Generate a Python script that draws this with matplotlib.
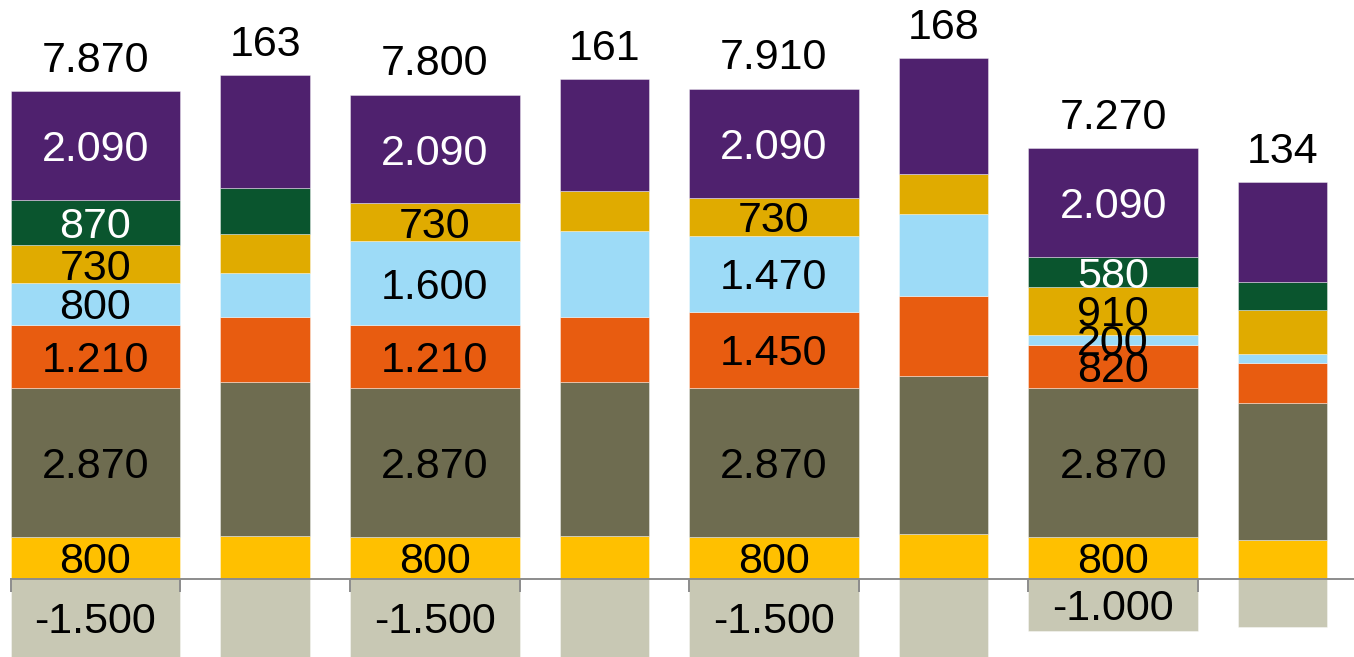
import numpy as np
import matplotlib
matplotlib.use("Agg")
import matplotlib.pyplot as plt

plt.rcParams['font.family'] = ['Liberation Sans', 'DejaVu Sans']

# wide bars (left scale) - labelled segments
wide_x = [0, 2, 4, 6]
wide_neg = [-1500, -1500, -1500, -1000]
wide_yellow = [800, 800, 800, 800]
wide_olive = [2870, 2870, 2870, 2870]
wide_orange = [1210, 1210, 1450, 820]
wide_lblue = [800, 1600, 1470, 200]
wide_gold = [730, 730, 730, 910]
wide_green = [870, 0, 0, 580]
wide_purple = [2090, 2090, 2090, 2090]

# narrow bars (right scale) - only totals shown
narrow_x = [1, 3, 5, 7]
narrow_neg = [-30.5, -31.0, -31.9, -18.4]
narrow_yellow = [16.4, 16.5, 17.0, 14.7]
narrow_olive = [59.3, 59.2, 61.0, 52.9]
narrow_orange = [25.0, 25.0, 30.8, 15.1]
narrow_lblue = [16.7, 33.0, 31.2, 3.7]
narrow_gold = [15.0, 15.1, 15.5, 16.8]
narrow_green = [17.9, 0, 0, 10.7]
narrow_purple = [43.2, 43.1, 44.4, 38.5]

colors = ['#FFC000', '#6E6C50', '#E85C10', '#9DDBF7', '#E0AB00', '#0A552E', '#4F216E']
text_colors = ['black', 'black', 'black', 'black', 'black', 'white', 'white']
neg_color = '#C8C8B4'
edge = (1, 1, 1, 0.45)
FS = 31


def fmt(v):
    return f"{v:,.0f}".replace(',', '.')


def stack(ax, x, width, neg, parts, labels):
    x = np.array(x, dtype=float)
    ax.bar(x, neg, width=width, color=neg_color, edgecolor=edge, linewidth=0.6)
    bottom = np.zeros(len(x))
    for vals, c, tc in zip(parts, colors, text_colors):
        vals = np.array(vals, dtype=float)
        ax.bar(x, vals, width=width, bottom=bottom, color=c, edgecolor=edge, linewidth=0.6)
        if labels:
            for xi, b, v in zip(x, bottom, vals):
                if v > 0:
                    ax.text(xi, b + v / 2, fmt(v), ha='center', va='center_baseline',
                            fontsize=FS, color=tc)
        bottom += vals
    if labels:
        for xi, n in zip(x, neg):
            ax.text(xi, n / 2, fmt(n), ha='center', va='center_baseline', fontsize=FS, color='black')
    totals = bottom + np.array(neg, dtype=float)
    for xi, top, t in zip(x, bottom, totals):
        ax.annotate(fmt(t), (xi, top), xytext=(0, 14), textcoords='offset points',
                    ha='center', va='baseline', fontsize=FS, color='black')


fig = plt.figure(figsize=(13.54, 6.57), dpi=100)
ax = fig.add_axes([0, 0, 1, 1])
ax2 = ax.twinx()

ylo, yhi = -1504, 11118
ax.set_xlim(-0.563, 7.42)
ax.set_ylim(ylo, yhi)
ax2.set_ylim(ylo / 50, yhi / 50)

stack(ax, wide_x, 1.0, wide_neg,
      [wide_yellow, wide_olive, wide_orange, wide_lblue, wide_gold, wide_green, wide_purple], True)
stack(ax2, narrow_x, 0.527, narrow_neg,
      [narrow_yellow, narrow_olive, narrow_orange, narrow_lblue, narrow_gold, narrow_green, narrow_purple], False)

# zero line with tick marks at the wide bar edges
ax2.plot([-0.5, 7.42], [0, 0], color='#8C8C8C', linewidth=1.4, clip_on=False)
tick_x = [x + d for x in wide_x for d in (-0.5, 0.5)]
ax2.plot(tick_x, np.zeros(len(tick_x)), linestyle='none', marker=3, markersize=9,
         markeredgewidth=1.4, color='#8C8C8C')

ax.axis('off')
ax2.axis('off')

fig.savefig('out.png', dpi=100)
